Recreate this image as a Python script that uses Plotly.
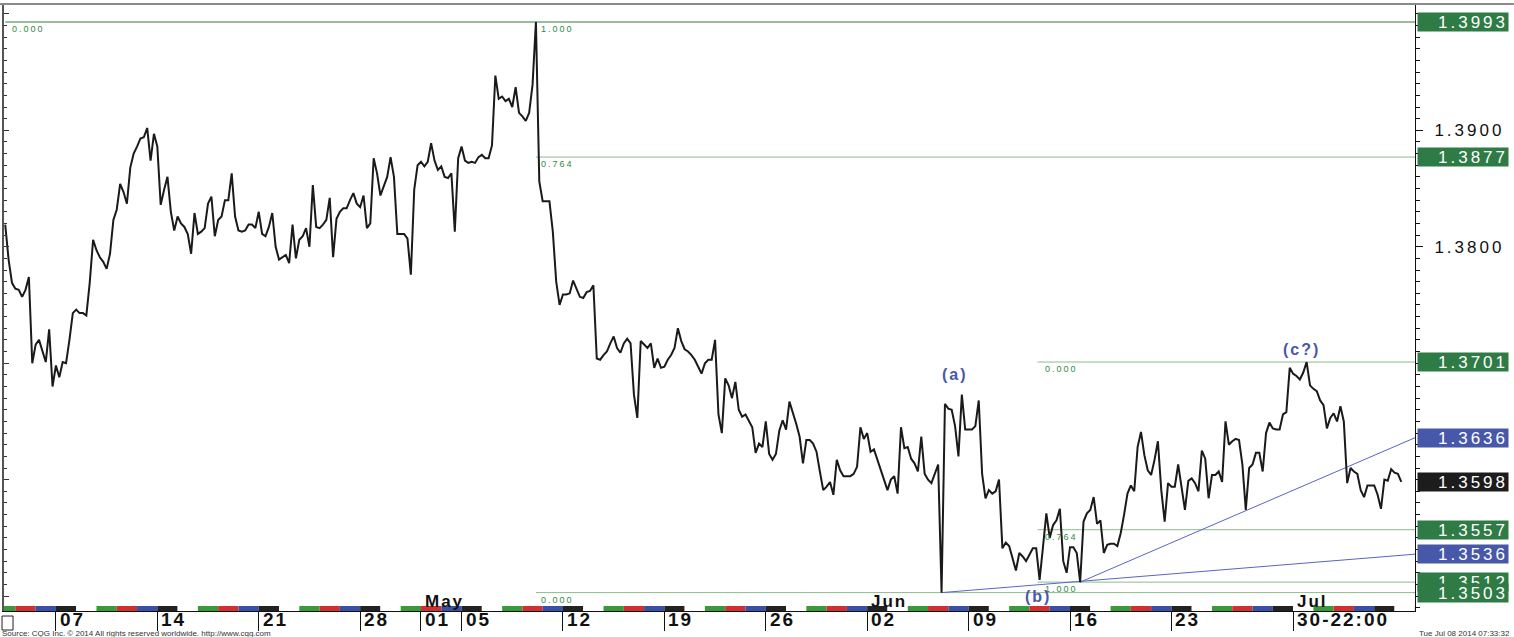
import numpy as np
import plotly.graph_objects as go

# ---------------- data (EUR/USD, 4-hour samples) ----------------
apr_prices = [
    1.3819, 1.3789, 1.3769, 1.3764, 1.3763, 1.3757, 1.3763, 1.3774, 1.3700, 1.3716,
    1.3720, 1.3710, 1.3701, 1.3729, 1.3680, 1.3698, 1.3688, 1.3701, 1.3700, 1.3720,
    1.3743, 1.3746, 1.3743, 1.3743, 1.3741, 1.3769, 1.3806, 1.3797, 1.3791, 1.3787,
    1.3781, 1.3794, 1.3823, 1.3832, 1.3854, 1.3847, 1.3837, 1.3868, 1.3880, 1.3886,
    1.3893, 1.3894, 1.3902, 1.3874, 1.3897, 1.3886, 1.3836, 1.3849, 1.3860, 1.3830,
    1.3814, 1.3826, 1.3820, 1.3817, 1.3811, 1.3794, 1.3829, 1.3811, 1.3813, 1.3816,
    1.3837, 1.3843, 1.3809, 1.3823, 1.3826, 1.3840, 1.3840, 1.3863, 1.3826, 1.3814,
    1.3813, 1.3814, 1.3819, 1.3819, 1.3816, 1.3830, 1.3811, 1.3809, 1.3817, 1.3829,
    1.3800, 1.3789, 1.3791, 1.3793, 1.3786, 1.3819, 1.3790, 1.3806, 1.3809, 1.3816,
    1.3800, 1.3853, 1.3817, 1.3816, 1.3819, 1.3823, 1.3842, 1.3791, 1.3824, 1.3830,
    1.3833, 1.3833, 1.3840, 1.3846, 1.3837, 1.3834, 1.3844, 1.3816, 1.3820, 1.3876,
    1.3863, 1.3844, 1.3852, 1.3860, 1.3877, 1.3860, 1.3811, 1.3811, 1.3811, 1.3807,
    1.3776, 1.3849, 1.3870,
]
may_prices = [
    1.3873, 1.3869, 1.3873, 1.3889, 1.3874, 1.3866, 1.3869,
    1.3860, 1.3859, 1.3863, 1.3813, 1.3876, 1.3886, 1.3874, 1.3872, 1.3873, 1.3872,
    1.3877, 1.3879, 1.3876, 1.3876, 1.3887, 1.3947, 1.3927, 1.3929, 1.3925, 1.3927,
    1.3920, 1.3937, 1.3915, 1.3912, 1.3908, 1.3915, 1.3939, 1.3993, 1.3856, 1.3839,
    1.3839, 1.3839, 1.3813, 1.3770, 1.3750, 1.3759, 1.3759, 1.3760, 1.3771, 1.3764,
    1.3757, 1.3756, 1.3761, 1.3762, 1.3767, 1.3704, 1.3703, 1.3707, 1.3710, 1.3717,
    1.3723, 1.3713, 1.3709, 1.3717, 1.3721, 1.3717, 1.3673, 1.3653, 1.3719, 1.3716,
    1.3713, 1.3717, 1.3696, 1.3704, 1.3696, 1.3697, 1.3703, 1.3707, 1.3713, 1.3730,
    1.3719, 1.3712, 1.3710, 1.3707, 1.3703, 1.3697, 1.3691, 1.3700, 1.3703, 1.3703,
    1.3720, 1.3656, 1.3640, 1.3687, 1.3681, 1.3670, 1.3684, 1.3660, 1.3654, 1.3656,
    1.3650, 1.3645, 1.3623, 1.3631, 1.3628, 1.3650, 1.3622, 1.3617, 1.3622, 1.3642,
    1.3651, 1.3643, 1.3667, 1.3658, 1.3648, 1.3637, 1.3614, 1.3634, 1.3634, 1.3631,
    1.3624, 1.3607, 1.3591, 1.3594, 1.3598, 1.3587, 1.3617, 1.3608, 1.3603, 1.3603,
    1.3603, 1.3605, 1.3611, 1.3645, 1.3635,
]
jun_prices = [
    1.3640, 1.3624, 1.3626, 1.3617, 1.3608,
    1.3600, 1.3591, 1.3600, 1.3603, 1.3588, 1.3645, 1.3627, 1.3628, 1.3618, 1.3614,
    1.3607, 1.3637, 1.3605, 1.3600, 1.3597, 1.3605, 1.3613, 1.3503, 1.3665, 1.3661,
    1.3660, 1.3646, 1.3620, 1.3673, 1.3643, 1.3643, 1.3643, 1.3646, 1.3668, 1.3605,
    1.3584, 1.3591, 1.3588, 1.3590, 1.3600, 1.3541, 1.3546, 1.3543, 1.3532, 1.3522,
    1.3537, 1.3534, 1.3530, 1.3536, 1.3541, 1.3541, 1.3514, 1.3542, 1.3571, 1.3550,
    1.3561, 1.3565, 1.3575, 1.3530, 1.3520, 1.3542, 1.3542, 1.3537, 1.3512, 1.3564,
    1.3571, 1.3574, 1.3585, 1.3562, 1.3565, 1.3537, 1.3544, 1.3545, 1.3545, 1.3543,
    1.3554, 1.3570, 1.3588, 1.3595, 1.3590, 1.3628, 1.3641, 1.3621, 1.3608, 1.3604,
    1.3617, 1.3633, 1.3591, 1.3564, 1.3597, 1.3594, 1.3594, 1.3613, 1.3593, 1.3574,
    1.3599, 1.3601, 1.3597, 1.3590, 1.3625, 1.3618, 1.3584, 1.3604, 1.3604, 1.3607,
    1.3598, 1.3650, 1.3630, 1.3633, 1.3635, 1.3634, 1.3613, 1.3574, 1.3610, 1.3613,
    1.3623, 1.3623, 1.3607, 1.3640, 1.3649, 1.3644, 1.3643, 1.3643, 1.3656, 1.3658,
    1.3696,
]
jul_prices = [
    1.3691, 1.3689, 1.3686, 1.3692, 1.3701, 1.3681, 1.3678, 1.3676, 1.3668,
    1.3664, 1.3644, 1.3653, 1.3657, 1.3650, 1.3663, 1.3650, 1.3597, 1.3610, 1.3607,
    1.3605, 1.3591, 1.3585, 1.3595, 1.3595, 1.3595, 1.3587, 1.3575, 1.3600, 1.3599,
    1.3609, 1.3606, 1.3605, 1.3598,
]

SAMPLE_START = -2.5      # trading days relative to the Mon 07 Apr 2014 session
SAMPLE_STEP = 1.0 / 6.0  # 4-hour samples

# x axis (trading-day index, weekends skipped)
week_ticks = [0, 5, 10, 15, 18, 20, 25, 30, 35, 40, 45, 50, 55, 61]
week_labels = ["07", "14", "21", "28", "01", "05", "12", "19", "26", "02", "09", "16", "23", "30-22:00"]
month_ticks = [18, 40, 61]
month_labels = ["May", "Jun", "Jul"]
X_RANGE = [-2.56, 67.01]
Y_RANGE = [1.34872, 1.40076]
y_major_ticks = [1.35, 1.36, 1.37, 1.38, 1.39, 1.40]
y_major_labels = ["", "", "", "1.3800", "1.3900", ""]

# Fibonacci retracements
fib1_levels = [1.3993, 1.3877, 1.3503]
fib1_text = ["1.000", "0.764", "0.000"]
fib1_origin_text = "0.000"
fib2_start = 48.4
fib2_levels = [1.3701, 1.3557, 1.3512]
fib2_text = ["0.000", "0.764", "1.000"]

# trend lines (start time, start price) -> (right edge, right-edge price)
trend_t = [[43.67, 67.01], [50.5, 67.01]]
trend_p = [[1.3503, 1.3536], [1.3512, 1.3636]]

# Elliott wave labels
wave_text = ["(a)", "(b)", "(c?)"]
wave_t = [44.33, 48.42, 61.39]
wave_p = [1.3690, 1.3500, 1.3712]

# right-hand price flags
flag_levels = [1.3993, 1.3877, 1.3701, 1.3636, 1.3598, 1.3557, 1.3536, 1.3512, 1.3503]
flag_kind = ["fib", "fib", "fib", "trend", "last", "fib", "trend", "fib", "fib"]

# ---------------- styles ----------------
FONT = "Liberation Sans"
FLAG_COL = {"fib": "#2e7b45", "trend": "#4858a8", "last": "#1c1c1c"}
FIB_MAIN = "#2e7d3a"
FIB_LINE = "#8dbb8d"
FIB_TXT = "#2f8a45"
TREND_COL = "#5a64c4"
WAVE_COL = "#4a58a6"
DAY_COL = ["#222222", "#ffffff", "#3a9a3a", "#d03030", "#3a4fa8"]


def spaced(txt, px):
    return f'<span style="letter-spacing:{px}px">{txt}</span>'


prices = np.array(apr_prices + may_prices + jun_prices + jul_prices)
t = SAMPLE_START + np.arange(len(prices)) * SAMPLE_STEP
fib1_start = t[int(np.argmax(prices))]

fig = go.Figure()

# fib lines
fig.add_trace(go.Scatter(x=[X_RANGE[0] + 0.06, X_RANGE[1]], y=[fib1_levels[0]] * 2, mode="lines",
                         line=dict(color=FIB_MAIN, width=1), hoverinfo="skip", showlegend=False))
for lvl in fib1_levels[1:]:
    fig.add_trace(go.Scatter(x=[fib1_start, X_RANGE[1]], y=[lvl, lvl], mode="lines",
                             line=dict(color=FIB_LINE, width=1), hoverinfo="skip", showlegend=False))
for lvl in fib2_levels:
    fig.add_trace(go.Scatter(x=[fib2_start, X_RANGE[1]], y=[lvl, lvl], mode="lines",
                             line=dict(color=FIB_LINE, width=1), hoverinfo="skip", showlegend=False))
# trend lines
for tx, ty in zip(trend_t, trend_p):
    fig.add_trace(go.Scatter(x=tx, y=ty, mode="lines", line=dict(color=TREND_COL, width=1),
                             hoverinfo="skip", showlegend=False))

# price line
fig.add_trace(go.Scatter(x=t, y=prices, mode="lines", line=dict(color="#1a1a1a", width=2),
                         showlegend=False))
# dummy for the left-side axis
fig.add_trace(go.Scatter(x=[t[0]], y=[prices[0]], yaxis="y2", mode="markers",
                         marker=dict(opacity=0), hoverinfo="skip", showlegend=False))

ann = []
# fib labels
ann.append(dict(x=X_RANGE[0], y=fib1_levels[0], xref="x", yref="y", text=spaced(fib1_origin_text, 2),
                xanchor="left", yanchor="top", xshift=6, yshift=0, showarrow=False,
                font=dict(family=FONT, size=9, color=FIB_TXT)))
for lvl, txt in zip(fib1_levels, fib1_text):
    ann.append(dict(x=fib1_start, y=lvl, xref="x", yref="y", text=spaced(txt, 2),
                    xanchor="left", yanchor="top", xshift=3, yshift=0, showarrow=False,
                    font=dict(family=FONT, size=9, color=FIB_TXT)))
for lvl, txt in zip(fib2_levels, fib2_text):
    ann.append(dict(x=fib2_start, y=lvl, xref="x", yref="y", text=spaced(txt, 2),
                    xanchor="left", yanchor="top", xshift=5, yshift=0, showarrow=False,
                    font=dict(family=FONT, size=9, color=FIB_TXT)))
# wave labels
for txt, wx, wy in zip(wave_text, wave_t, wave_p):
    ann.append(dict(x=wx, y=wy, xref="x", yref="y", text="<b>" + spaced(txt, 2) + "</b>",
                    xanchor="center", yanchor="middle", showarrow=False,
                    font=dict(family=FONT, size=16, color=WAVE_COL)))
# month labels
for mx, mt in zip(month_ticks, month_labels):
    ann.append(dict(x=mx, y=0.0165, xref="x", yref="paper", text="<b>" + spaced(mt, 2) + "</b>",
                    xanchor="left", yanchor="middle", xshift=2, showarrow=False,
                    font=dict(family=FONT, size=17, color="#111111")))
# week labels under the axis
for wx, wl in zip(week_ticks, week_labels):
    ann.append(dict(x=wx, y=-0.0135, xref="x", yref="paper", text="<b>" + spaced(wl, 2) + "</b>",
                    xanchor="left", yanchor="middle", xshift=2, showarrow=False,
                    font=dict(family=FONT, size=19, color="#111111")))
# right-hand flags
for lvl, kind in zip(flag_levels, flag_kind):
    ann.append(dict(x=1.0014, y=lvl, xref="paper", yref="y", text=spaced(f"{lvl:.4f}", 3),
                    xanchor="left", yanchor="middle", showarrow=False, align="right",
                    width=90, height=18, borderpad=0, bgcolor=FLAG_COL[kind],
                    font=dict(family=FONT, size=17, color="#ffffff")))
# footer
ann.append(dict(x=-0.0028, y=-0.0365, xref="paper", yref="paper",
                text="Source: CQG Inc. \u00a9 2014 All rights reserved worldwide. http://www.cqg.com",
                xanchor="left", yanchor="middle", showarrow=False,
                font=dict(family=FONT, size=8, color="#333333")))
ann.append(dict(x=1.0687, y=-0.0365, xref="paper", yref="paper", text="Tue Jul 08 2014 07:33:32",
                xanchor="right", yanchor="middle", showarrow=False,
                font=dict(family=FONT, size=8, color="#333333")))

shapes = []
# trading-day colour strip along the time axis
for d in range(int(np.floor(X_RANGE[0])), int(np.ceil(X_RANGE[1]))):
    shapes.append(dict(type="rect", xref="x", yref="paper", x0=d, x1=d + 1, y0=0, y1=0.0083,
                       line=dict(width=0), fillcolor=DAY_COL[d % 5], layer="above"))
# window frame bits
shapes.append(dict(type="line", xref="paper", yref="paper", x0=-0.0028, x1=1.0701, y0=1.0017, y1=1.0017,
                   line=dict(color="#8a8a8a", width=2)))
shapes.append(dict(type="rect", xref="paper", yref="paper", x0=-0.0014, x1=0.0064, y0=-0.0314, y1=-0.0083,
                   line=dict(color="#222222", width=1), fillcolor="white"))

fig.update_layout(
    width=1514, height=637,
    margin=dict(l=4, r=99, t=5, b=26, autoexpand=False),
    paper_bgcolor="white", plot_bgcolor="white",
    showlegend=False,
    font=dict(family=FONT),
    xaxis=dict(range=X_RANGE, tickvals=week_ticks, showticklabels=False, ticks="outside",
               ticklen=19, tickcolor="#111111", tickwidth=1, showline=True, linecolor="#111111",
               linewidth=1, showgrid=False, zeroline=False, automargin=False),
    yaxis=dict(range=Y_RANGE, side="right", tickvals=y_major_ticks,
               ticktext=[spaced(s, 3) for s in y_major_labels], ticks="outside", ticklen=7,
               tickcolor="#111111", showline=True, linecolor="#111111", linewidth=1,
               showgrid=False, zeroline=False, ticklabelstandoff=8, automargin=False,
               tickfont=dict(family=FONT, size=17, color="#111111"),
               minor=dict(dtick=0.001, tick0=1.30, ticks="outside", ticklen=4, tickcolor="#111111")),
    yaxis2=dict(range=Y_RANGE, overlaying="y", side="left", showticklabels=False, ticks="inside",
                ticklen=5, tickcolor="#333333", dtick=0.01, tick0=1.30, showline=True,
                linecolor="#555555", linewidth=2, showgrid=False, zeroline=False, automargin=False,
                minor=dict(dtick=0.001, tick0=1.30, ticks="inside", ticklen=3, tickcolor="#333333")),
    annotations=ann,
    shapes=shapes,
)

fig.write_html("out.html", config={"displayModeBar": False},
               post_script="document.body.style.margin='0';document.body.style.overflow='hidden';")
